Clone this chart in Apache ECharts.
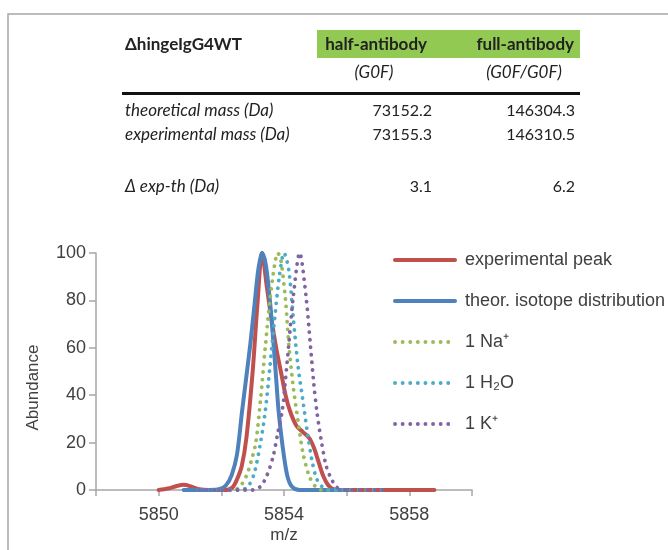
<!DOCTYPE html>
<html>
<head>
<meta charset="utf-8">
<script src="https://cdn.jsdelivr.net/npm/echarts@6/dist/echarts.min.js"></script>
<style>html,body{margin:0;padding:0;background:#fff;}#c{width:668px;height:550px;}</style>
</head>
<body>
<div id="c"></div>
<script>
// ---- data ----
const tableTitle = 'ΔhingeIgG4WT';
const columnHeaders = ['half-antibody', 'full-antibody'];
const columnSubHeaders = ['(G0F)', '(G0F/G0F)'];
const rowLabels = ['theoretical mass (Da)', 'experimental mass (Da)', 'Δ exp-th (Da)'];
const halfAntibody = ['73152.2', '73155.3', '3.1'];
const fullAntibody = ['146304.3', '146310.5', '6.2'];

const seriesNames = ['experimental peak', 'theor. isotope distribution', '1 Na⁺', '1 H₂O', '1 K⁺'];
const xTickLabels = [5850, 5854, 5858];

const experimentalPeak = [[5850.0,0],[5850.3,0.6],[5850.55,1.6],[5850.8,2.2],[5851.05,1.4],[5851.3,0.3],[5851.6,0],[5852.1,0],[5852.35,1],[5852.5,4.5],[5852.65,10],[5852.8,22],[5853.0,50],[5853.15,78],[5853.3,100],[5853.45,86],[5853.6,72],[5853.75,60],[5853.9,50],[5854.05,40],[5854.2,33],[5854.4,27],[5854.6,24.5],[5854.8,22],[5854.95,18],[5855.1,12],[5855.25,6],[5855.4,2.2],[5855.55,0.5],[5855.8,0],[5858.8,0]];
const theorIsotope = [[5850.8,0],[5851.6,0],[5851.95,0.4],[5852.15,2],[5852.33,6.3],[5852.5,15],[5852.66,33],[5852.8,48],[5852.92,61],[5853.05,77],[5853.18,93],[5853.3,100],[5853.42,95],[5853.55,80],[5853.67,61],[5853.75,47],[5853.83,33],[5853.95,19],[5854.1,6.3],[5854.25,1.5],[5854.5,0],[5856.0,0]];
const naAdduct = [[5851.3,0],[5852.4,0],[5852.6,1.5],[5852.8,6],[5852.95,12],[5853.1,20],[5853.25,38],[5853.4,60],[5853.55,80],[5853.7,95],[5853.8,100],[5853.9,97],[5854.05,80],[5854.15,62],[5854.3,43],[5854.45,29],[5854.6,16],[5854.8,6],[5855.0,1.5],[5855.2,0],[5857.1,0]];
const h2oAdduct = [[5851.3,0],[5852.6,0],[5852.85,1.5],[5853.05,7],[5853.25,20],[5853.4,33],[5853.55,52],[5853.7,72],[5853.85,90],[5854.0,100],[5854.15,93],[5854.3,72],[5854.45,52],[5854.6,38],[5854.75,24],[5854.9,12],[5855.05,4.5],[5855.25,1],[5855.5,0],[5857.3,0]];
const kAdduct = [[5851.3,0],[5853.0,0],[5853.25,1.5],[5853.45,6],[5853.65,14],[5853.8,24],[5853.95,34],[5854.05,47],[5854.15,61],[5854.3,82],[5854.5,100],[5854.7,82],[5854.85,60],[5854.95,45],[5855.05,33],[5855.2,20],[5855.35,10],[5855.5,5],[5855.7,1],[5856.0,0],[5857.3,0]];

const seriesData = [experimentalPeak, theorIsotope, naAdduct, h2oAdduct, kAdduct];
const colors = ['#C0504D', '#4F81BD', '#9BBB59', '#4BACC6', '#8064A2'];

// ---- chart ----
const chart = echarts.init(document.getElementById('c'), null, {renderer: 'canvas'});
const axisFont = "'Liberation Sans', Arial, Helvetica, sans-serif";
const tblFont = "Lato, 'Open Sans', sans-serif";

const graphics = [
  {type: 'rect', silent: true, shape: {x: 8, y: 14, width: 800, height: 700}, style: {fill: 'none', stroke: '#a6a6a6', lineWidth: 1.5}},
  {type: 'rect', silent: true, shape: {x: 317, y: 30, width: 263, height: 28}, style: {fill: '#92C953'}},
  {type: 'line', silent: true, shape: {x1: 122, y1: 93.5, x2: 580, y2: 93.5}, style: {stroke: '#111', lineWidth: 3}},
  {type: 'text', silent: true, style: {text: tableTitle, x: 125, y: 45, font: 'bold 17px ' + tblFont, fill: '#222', textAlign: 'left', textVerticalAlign: 'middle'}},
  {type: 'text', silent: true, style: {text: columnHeaders[0], x: 427, y: 45, font: 'bold 17px ' + tblFont, fill: '#222', textAlign: 'right', textVerticalAlign: 'middle'}},
  {type: 'text', silent: true, style: {text: columnHeaders[1], x: 574, y: 45, font: 'bold 17px ' + tblFont, fill: '#222', textAlign: 'right', textVerticalAlign: 'middle'}},
  {type: 'text', silent: true, style: {text: columnSubHeaders[0], x: 374, y: 73, font: 'italic 17px ' + tblFont, fill: '#222', textAlign: 'center', textVerticalAlign: 'middle'}},
  {type: 'text', silent: true, style: {text: columnSubHeaders[1], x: 524, y: 73, font: 'italic 17px ' + tblFont, fill: '#222', textAlign: 'center', textVerticalAlign: 'middle'}}
];
const rowY = [111, 135, 187];
rowLabels.forEach((lab, i) => {
  graphics.push({type: 'text', silent: true, style: {text: lab, x: 125, y: rowY[i], font: 'italic 17px ' + tblFont, fill: '#222', textAlign: 'left', textVerticalAlign: 'middle'}});
  graphics.push({type: 'text', silent: true, style: {text: halfAntibody[i], x: 432, y: rowY[i], font: '16px ' + tblFont, fill: '#222', textAlign: 'right', textVerticalAlign: 'middle'}});
  graphics.push({type: 'text', silent: true, style: {text: fullAntibody[i], x: 575, y: rowY[i], font: '16px ' + tblFont, fill: '#222', textAlign: 'right', textVerticalAlign: 'middle'}});
});

const series = seriesData.map((d, i) => {
  const dotted = i >= 2;
  return {
    name: seriesNames[i],
    type: 'line',
    data: d,
    smooth: 0.3,
    symbol: 'none',
    showSymbol: false,
    animation: false,
    color: colors[i],
    lineStyle: dotted
      ? {color: colors[i], width: 3.8, type: [0.1, 7.5], cap: 'round'}
      : {color: colors[i], width: 4, cap: 'round', join: 'round'},
    z: 2 + i
  };
});

chart.setOption({
  animation: false,
  backgroundColor: '#fff',
  grid: {left: 96, right: 196, top: 253, bottom: 60, containLabel: false},
  xAxis: {
    type: 'value', min: 5848, max: 5860, interval: 2,
    name: 'm/z', nameLocation: 'middle', nameGap: 37,
    nameTextStyle: {fontFamily: axisFont, fontSize: 17, color: '#404040'},
    axisLine: {lineStyle: {color: '#a6a6a6', width: 1.5}},
    axisTick: {show: true, length: 6, inside: false, lineStyle: {color: '#a6a6a6', width: 1.5}},
    axisLabel: {fontFamily: axisFont, fontSize: 18, color: '#404040', margin: 16,
      formatter: v => (xTickLabels.indexOf(Math.round(v)) >= 0 ? String(Math.round(v)) : '')},
    splitLine: {show: false}
  },
  yAxis: {
    type: 'value', min: 0, max: 100, interval: 20,
    name: 'Abundance', nameLocation: 'middle', nameGap: 54,
    nameTextStyle: {fontFamily: axisFont, fontSize: 17, color: '#404040', padding: [0, 32, 0, 0]},
    axisLine: {show: true, lineStyle: {color: '#a6a6a6', width: 1.5}},
    axisTick: {show: true, length: 7, lineStyle: {color: '#a6a6a6', width: 1.5}},
    axisLabel: {fontFamily: axisFont, fontSize: 18, color: '#404040', margin: 10},
    splitLine: {show: false}
  },
  legend: {
    orient: 'vertical', left: 393, top: 251, padding: 0,
    itemWidth: 60, itemHeight: 14, itemGap: 23,
    data: seriesNames,
    textStyle: {fontFamily: axisFont, fontSize: 18, color: '#404040', lineHeight: 14, padding: [0, 0, 0, 5]},
    itemStyle: {opacity: 0},
    lineStyle: {width: 'inherit', type: 'inherit', cap: 'inherit'},
    selectedMode: false
  },
  graphic: graphics,
  series: series
});
</script>
</body>
</html>
